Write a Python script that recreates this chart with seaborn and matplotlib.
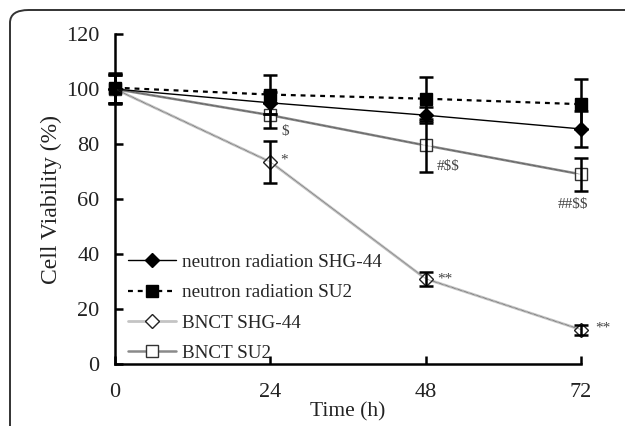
import numpy as np
import pandas as pd
import seaborn as sns
import matplotlib
matplotlib.use("Agg")
import matplotlib.pyplot as plt
from matplotlib.patches import FancyBboxPatch

# ---- data ----
times = [0, 24, 48, 72]
series_names = ["neutron radiation SHG-44", "neutron radiation SU2", "BNCT SHG-44", "BNCT SU2"]
nr_shg44 = [100.0, 95.0, 90.5, 85.5]
nr_shg44_err = [5.5, 4.0, 3.0, 6.5]
nr_su2 = [100.5, 98.0, 96.5, 94.5]
nr_su2_err = [5.5, 7.0, 8.0, 9.0]
bnct_shg44 = [100.0, 73.5, 31.0, 12.5]
bnct_shg44_err = [5.0, 7.5, 2.5, 1.8]
bnct_su2 = [100.0, 90.5, 79.5, 69.0]
bnct_su2_err = [5.0, 4.5, 9.5, 6.0]
annotations = [("$", 24, 90.5), ("*", 24, 73.5), ("#$$", 48, 79.5), ("##$$", 72, 69.0),
               ("**", 48, 31.0), ("**", 72, 12.5)]

sns.set_style("ticks")
plt.rcParams["font.family"] = ["Liberation Serif", "DejaVu Serif"]
plt.rcParams["text.parse_math"] = False

fig = plt.figure(figsize=(6.25, 4.26), dpi=100)
ax = fig.add_axes([0.184, 0.1455, 0.7456, 0.7745])

# rounded outer frame
frame = FancyBboxPatch((10 / 625, -0.2), 1.2, (1 - 10 / 426) + 0.2,
                       boxstyle="round,pad=0,rounding_size=0.03",
                       transform=fig.transFigure, fill=False, edgecolor="#333333",
                       linewidth=1.4, clip_on=False)
fig.patches.append(frame)

df = pd.DataFrame({
    "Time": times * 4,
    "Viability": nr_shg44 + nr_su2 + bnct_shg44 + bnct_su2,
    "err": nr_shg44_err + nr_su2_err + bnct_shg44_err + bnct_su2_err,
    "Series": sum([[s] * 4 for s in series_names], []),
})

styles = {
    "neutron radiation SHG-44": dict(color="black", ls="-", lw=1.0, marker="D", ms=7,
                                     mfc="black", mec="black"),
    "neutron radiation SU2": dict(color="black", ls=(0, (2.2, 2.2)), lw=1.6, marker="s", ms=9,
                                  mfc="black", mec="black"),
    "BNCT SHG-44": dict(color="#c4c4c4", ls="-", lw=2.0, marker="D", ms=7,
                        mfc="white", mec="#222222"),
    "BNCT SU2": dict(color="#8a8a8a", ls="-", lw=1.8, marker="s", ms=8,
                     mfc="white", mec="#333333"),
}

order = ["BNCT SHG-44", "BNCT SU2", "neutron radiation SHG-44", "neutron radiation SU2"]
for name in order:
    sub = df[df["Series"] == name]
    st = styles[name]
    sns.lineplot(data=sub, x="Time", y="Viability", ax=ax, color=st["color"],
                 linestyle=st["ls"], linewidth=st["lw"], marker=st["marker"],
                 markersize=st["ms"], markerfacecolor=st["mfc"],
                 markeredgecolor=st["mec"], markeredgewidth=1.0, clip_on=False,
                 zorder=3, label=name)
    if name.startswith("BNCT"):
        ax.plot(sub["Time"], sub["Viability"], color="#333333", lw=0.6,
                ls=(0, (0.6, 0.9)), zorder=3.1)
    ax.errorbar(sub["Time"], sub["Viability"], yerr=sub["err"], fmt="none",
                ecolor="black", elinewidth=1.8, capsize=5, capthick=1.8,
                zorder=4, clip_on=False)

if ax.get_legend():
    ax.get_legend().remove()
hl, ll = ax.get_legend_handles_labels()
hmap = dict(zip(ll, hl))
leg = ax.legend([hmap[n] for n in series_names], series_names, loc="lower left",
                bbox_to_anchor=(0.0, -0.035), frameon=False, fontsize=13.8,
                handlelength=2.5, handletextpad=0.3, labelspacing=0.68,
                borderaxespad=0.3)

offsets = {
    ("$", 24): (8, -12), ("*", 24): (7, 1), ("#$$", 48): (8, -15),
    ("##$$", 72): (-17, -22), ("**", 48): (8, 0), ("**", 72): (10, 1),
}
for txt, x, y in annotations:
    dx, dy = offsets[(txt, x)]
    ax.annotate(txt, (x, y), xytext=(dx, dy), textcoords="offset points",
                fontsize=11, color="#444444", va="center", ha="left")

ax.set_xlim(0, 72)
ax.set_ylim(0, 120)
ax.set_xticks([0, 24, 48, 72])
ax.set_yticks([0, 20, 40, 60, 80, 100, 120])
ax.tick_params(direction="in", length=6, width=1.8, labelsize=16, color="black",
               labelcolor="#222222")
ax.tick_params(axis="x", pad=14)
ax.tick_params(axis="y", pad=11)
ax.set_xlabel("Time (h)", fontsize=15.5, labelpad=0, color="#222222")
ax.set_ylabel("Cell Viability (%)", fontsize=17, labelpad=3, color="#222222")
for sp in ["top", "right"]:
    ax.spines[sp].set_visible(False)
for sp in ["left", "bottom"]:
    ax.spines[sp].set_linewidth(1.8)
    ax.spines[sp].set_color("black")

fig.savefig("out.png", dpi=100)
